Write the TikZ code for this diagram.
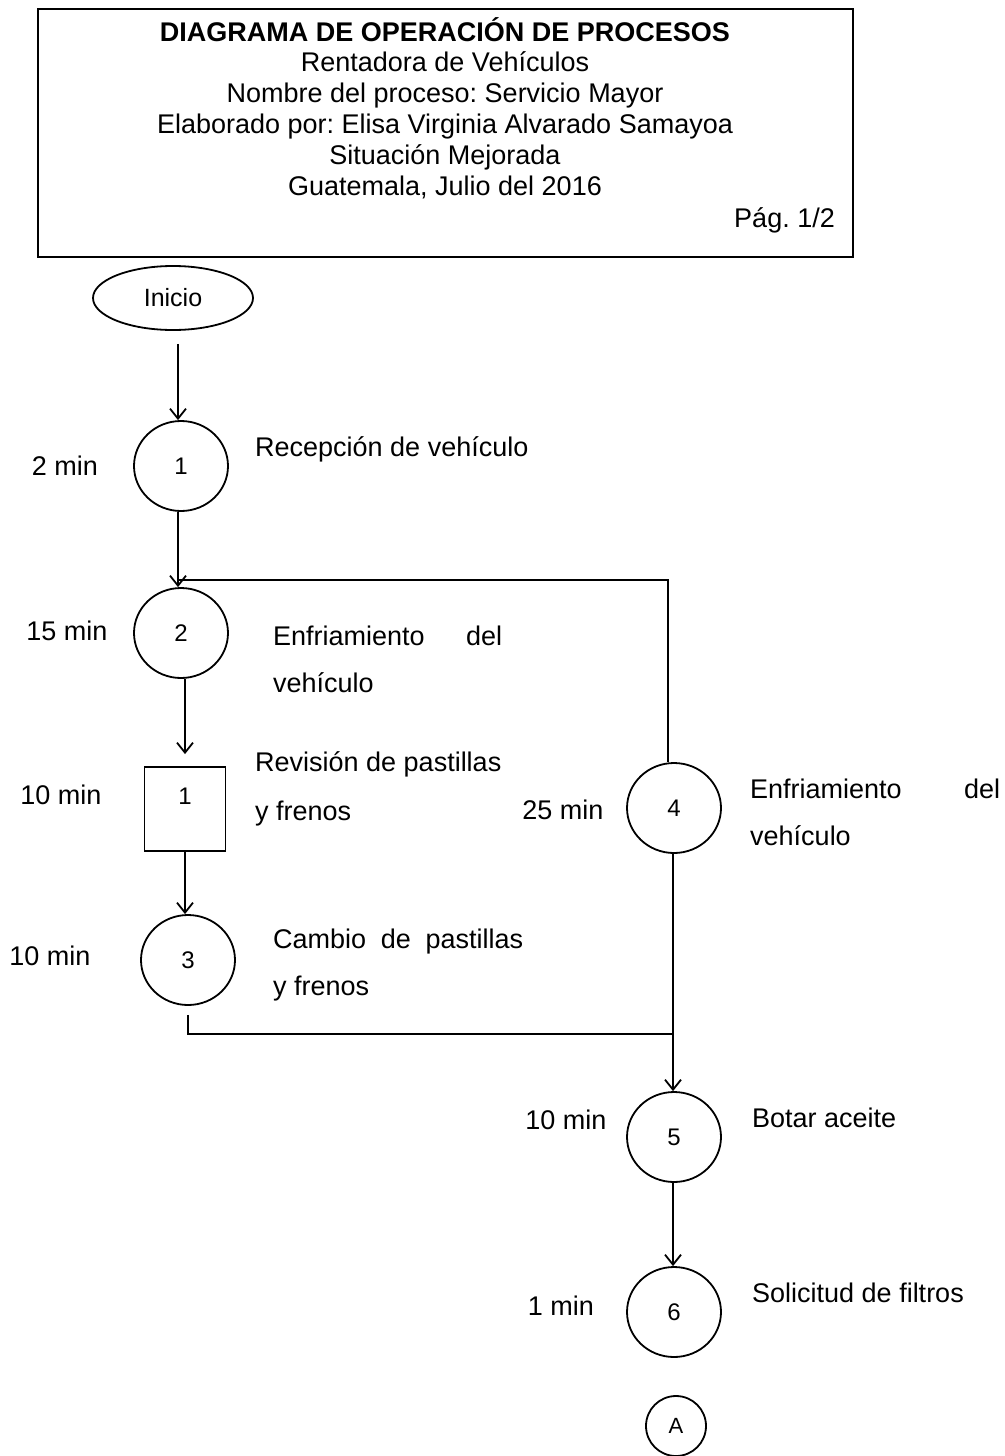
\documentclass[tikz,border=0pt]{standalone}
\usepackage{fontspec}
\setmainfont{Liberation Sans}
\frenchspacing
\usetikzlibrary{arrows.meta,shapes.geometric}

\tikzset{
  txt/.style={font=\fontsize{27}{31}\selectfont, inner sep=0pt, text height=19.3pt, text depth=0pt},
  lbl/.style={txt, anchor=west},
  tm/.style={txt, anchor=center},
  opcirc/.style={draw, line width=1.8pt, ellipse, minimum width=94pt, minimum height=90pt, inner sep=0pt,
                 font=\fontsize{24}{28}\selectfont},
  insp/.style={draw, line width=1.8pt, rectangle, minimum width=81pt, minimum height=84pt, inner sep=0pt},
  conn/.style={line width=1.8pt},
  arr/.style={conn, -{Straight Barb[length=10pt,width=16pt,line width=1.8pt]}},
}

\begin{document}
\begin{tikzpicture}[x=1pt, y=-1pt]
\useasboundingbox (0,0) rectangle (1004,1456);

% header block
\node[draw, line width=1.8pt, minimum width=815pt, minimum height=248pt, anchor=north west, inner sep=0pt] (hdr) at (37,8) {};
\node[tm, font=\fontsize{27}{31}\selectfont\bfseries] (t0) at (445,32) {DIAGRAMA DE OPERACIÓN DE PROCESOS};
\node[tm] (t1) at (445,62)  {Rentadora de Vehículos};
\node[tm] (t2) at (445,93)  {Nombre del proceso: Servicio Mayor};
\node[tm] (t3) at (445,124) {Elaborado por: Elisa Virginia Alvarado Samayoa};
\node[tm] (t4) at (445,155) {Situación Mejorada};
\node[tm] (t5) at (445,186) {Guatemala, Julio del 2016};
\node[txt, anchor=east] (pg) at (835,218) {Pág. 1/2};

% start terminal
\node[draw, line width=1.8pt, ellipse, minimum width=160pt, minimum height=64pt, inner sep=0pt,
      font=\fontsize{25}{29}\selectfont] (ini) at (173,298) {Inicio};

% left column
\node[opcirc] (c1) at (181,466) {1};
\node[opcirc] (c2) at (181,633) {2};
\node[insp]   (s1) at (185,809) {};
\node[txt, anchor=center, font=\fontsize{24}{28}\selectfont] (s1n) at (185,795) {1};
\node[opcirc] (c3) at (188,960) {3};

% right column
\node[opcirc] (c4) at (674,808) {4};
\node[opcirc] (c5) at (674,1137) {5};
\node[opcirc] (c6) at (674,1312) {6};
\node[draw, line width=1.8pt, circle, minimum size=60pt, inner sep=0pt,
      font=\fontsize{22}{26}\selectfont] (ca) at (676,1426) {A};

% times
\node[tm] (m1) at (65,466)   {2 min};
\node[tm] (m2) at (67,631)   {15 min};
\node[tm] (m3) at (61,795)   {10 min};
\node[tm] (m4) at (50,956)   {10 min};
\node[tm] (m5) at (563,810)  {25 min};
\node[tm] (m6) at (566,1120) {10 min};
\node[tm] (m7) at (561,1306) {1 min};

% descriptions
\node[lbl] (d1)  at (255,447)  {Recepción de vehículo};
\node[lbl] (d2a) at (273,636)  {\makebox[229pt][s]{Enfriamiento del}};
\node[lbl] (d2b) at (273,683)  {vehículo};
\node[lbl] (d3a) at (255,762)  {Revisión de pastillas};
\node[lbl] (d3b) at (255,811)  {y frenos};
\node[lbl] (d4a) at (273,939)  {\makebox[250pt][s]{Cambio de pastillas}};
\node[lbl] (d4b) at (273,986)  {y frenos};
\node[lbl] (d5a) at (750,789)  {\makebox[250pt][s]{Enfriamiento del}};
\node[lbl] (d5b) at (750,836)  {vehículo};
\node[lbl] (d6)  at (752,1118) {Botar aceite};
\node[lbl] (d7)  at (752,1293) {Solicitud de filtros};

% junctions
\coordinate (j1) at (178,580);
\coordinate (j2) at (673,1034);

% connectors
\draw[arr, shorten <=13pt] (ini.south -| j1) -- (c1.north -| j1);
\draw[arr] (c1.south -| j1) -- (c2.north -| j1);
\draw[conn] (c4.north -| 668,0) |- (j1);
\draw[arr, shorten >=12pt] (c2.south -| s1.north) -- (s1.north);
\draw[arr] (s1.south) -- (c3.north -| s1.south);
\draw[conn, shorten <=9pt] (c3.south) |- (j2);
\draw[arr] (c4.south -| j2) -- (c5.north -| j2);
\draw[arr] (c5.south -| j2) -- (c6.north -| j2);
\end{tikzpicture}
\end{document}
